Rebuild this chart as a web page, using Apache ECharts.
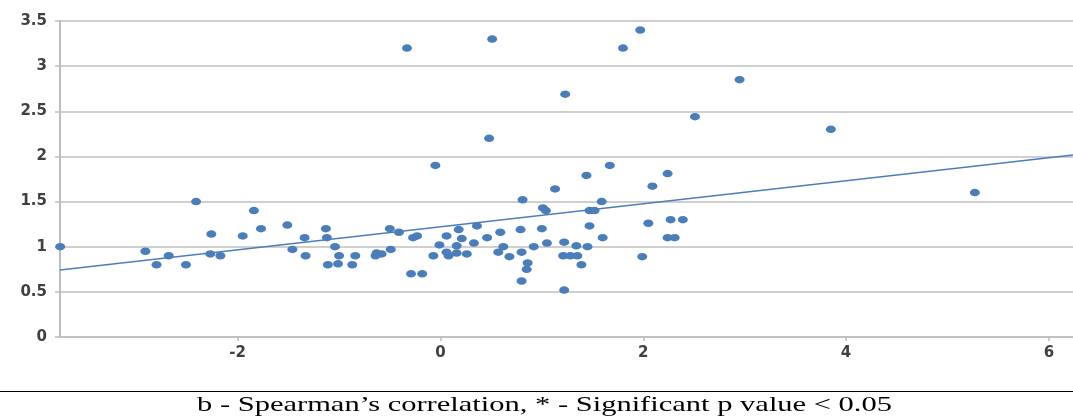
<!DOCTYPE html>
<html>
<head>
<meta charset="utf-8">
<script src="https://cdn.jsdelivr.net/npm/echarts@6/dist/echarts.min.js"></script>
<style>
html,body{margin:0;padding:0;background:#fff;}
#chart{width:1073px;height:417px;}
</style>
</head>
<body>
<div id="chart"></div>
<script>
// Scatter points
var xValues = [-3.75,-2.91,-2.80,-2.68,-2.51,-2.41,-2.26,-2.27,-2.17,-1.95,-1.84,-1.77,-1.51,-1.46,-1.34,-1.33,-1.13,-1.12,-1.11,-1.04,-1.00,-1.01,-0.87,-0.84,-0.63,-0.64,-0.58,-0.50,-0.49,-0.41,-0.33,-0.29,-0.27,-0.23,-0.18,-0.07,-0.05,-0.01,0.06,0.06,0.08,0.16,0.18,0.21,0.16,0.26,0.33,0.36,0.46,0.48,0.51,0.57,0.59,0.62,0.68,0.79,0.81,0.80,0.86,0.85,0.80,0.92,1.00,1.13,1.01,1.04,1.05,1.23,1.22,1.21,1.28,1.35,1.34,1.39,1.22,1.44,1.45,1.47,1.47,1.52,1.59,1.60,1.67,1.80,1.97,1.99,2.05,2.09,2.24,2.24,2.27,2.31,2.39,2.51,2.95,3.85,5.27];
var yValues = [1.00,0.95,0.80,0.90,0.80,1.50,1.14,0.92,0.90,1.12,1.40,1.20,1.24,0.97,1.10,0.90,1.20,1.10,0.80,1.00,0.90,0.81,0.80,0.90,0.93,0.90,0.92,1.20,0.97,1.16,3.20,0.70,1.10,1.12,0.70,0.90,1.90,1.02,1.12,0.94,0.90,0.93,1.19,1.09,1.01,0.92,1.04,1.23,1.10,2.20,3.30,0.94,1.16,1.00,0.89,1.19,1.52,0.94,0.82,0.75,0.62,1.00,1.20,1.64,1.43,1.40,1.04,2.69,1.05,0.90,0.90,0.90,1.01,0.80,0.52,1.79,1.00,1.23,1.40,1.40,1.50,1.10,1.90,3.20,3.40,0.89,1.26,1.67,1.81,1.10,1.30,1.10,1.30,2.44,2.85,2.30,1.60];
// Trend line endpoints
var trendX = [-3.752, 6.238];
var trendY = [0.742, 2.016];
// Axis ticks
var xTicks = [-2, 0, 2, 4, 6];
var xMin = -3.752, xMax = 6.238;
var yMin = 0, yMax = 3.5, yStep = 0.5;
var captionText = "b - Spearman\u2019s correlation, * - Significant p value < 0.05";

var points = xValues.map(function (x, i) { return [x, yValues[i]]; });
var trend = trendX.map(function (x, i) { return [x, trendY[i]]; });

var capFont = '21px "Liberation Serif"';
var mc = document.createElement('canvas').getContext('2d');
mc.font = capFont;
var capW = mc.measureText(captionText).width;
var capScale = 695 / capW;

var chart = echarts.init(document.getElementById('chart'), null, {renderer: 'canvas'});
var labelStyle = {fontFamily: 'DejaVu Sans', fontSize: 15, fontWeight: 'bold', color: '#404040'};
chart.setOption({
  animation: false,
  backgroundColor: '#ffffff',
  grid: {left: 60, right: 0, top: 21, bottom: 80, containLabel: false},
  xAxis: {
    type: 'value', min: xMin, max: xMax,
    axisLine: {show: true, onZero: false, lineStyle: {color: '#bdbdbd', width: 1.5}},
    axisTick: {show: true, length: 4, customValues: xTicks, lineStyle: {color: '#bdbdbd', width: 1.5}},
    axisLabel: Object.assign({customValues: xTicks, margin: 9}, labelStyle),
    splitLine: {show: false}
  },
  yAxis: {
    type: 'value', min: yMin, max: yMax, interval: yStep,
    axisLine: {show: true, onZero: false, lineStyle: {color: '#bdbdbd', width: 2}},
    axisTick: {show: true, length: 5, lineStyle: {color: '#bdbdbd', width: 1.5}},
    axisLabel: Object.assign({margin: 13, formatter: function (v) { return String(v); }}, labelStyle),
    splitLine: {show: true, lineStyle: {color: '#bfbfbf', width: 1.5}}
  },
  series: [
    {
      type: 'line', data: trend, symbol: 'none', silent: true, z: 2,
      lineStyle: {color: '#4a7ebb', width: 1.5}
    },
    {
      type: 'scatter', data: points, symbol: 'circle', symbolSize: [10, 7.5], z: 3, clip: true,
      itemStyle: {color: '#4a7ebb', opacity: 1}
    }
  ],
  graphic: [
    {
      type: 'line', shape: {x1: 0, y1: 391.5, x2: 1073, y2: 391.5},
      style: {stroke: '#000000', lineWidth: 1.2}
    },
    {
      type: 'text', x: 197, y: 405, scaleX: capScale,
      style: {text: captionText, font: capFont, fill: '#000000', textAlign: 'left', textVerticalAlign: 'middle'}
    }
  ]
});
</script>
</body>
</html>
